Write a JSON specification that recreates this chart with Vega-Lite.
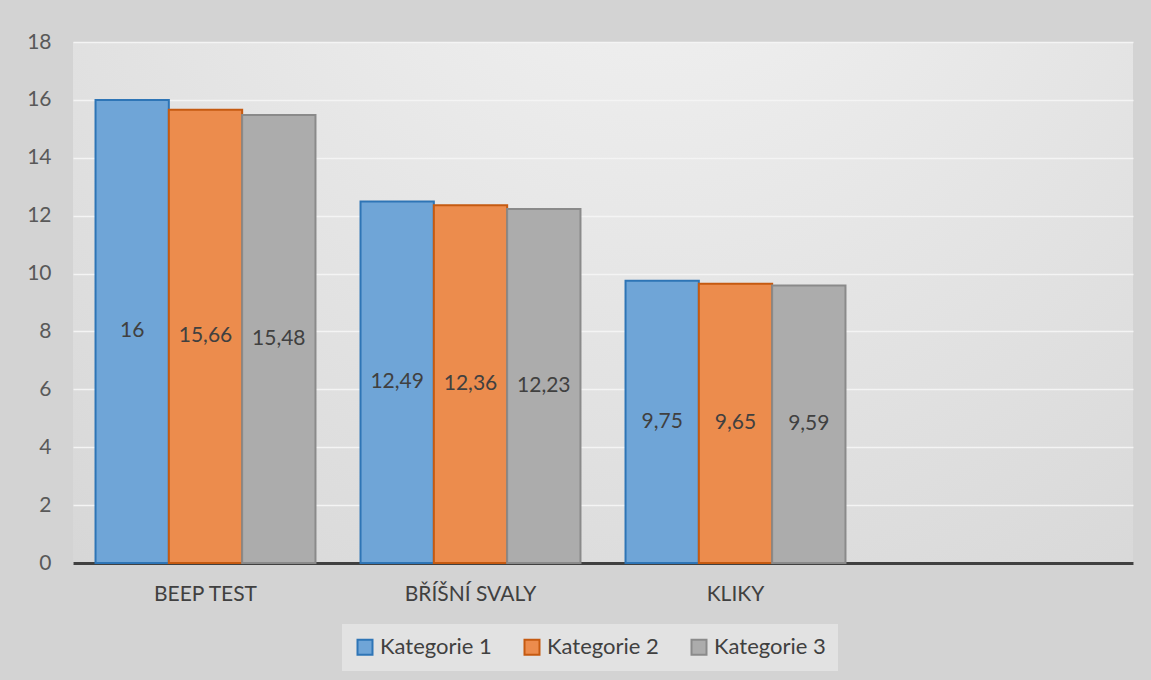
{
  "$schema": "https://vega.github.io/schema/vega-lite/v6.json",
  "width": 1060,
  "height": 521,
  "autosize": {"type": "none"},
  "padding": {"left": 73, "top": 42, "right": 18, "bottom": 117},
  "background": "#d3d3d3",
  "data": {
    "values": [
      {"test": "BEEP TEST", "serie": "Kategorie 1", "value": 16},
      {"test": "BEEP TEST", "serie": "Kategorie 2", "value": 15.66},
      {"test": "BEEP TEST", "serie": "Kategorie 3", "value": 15.48},
      {"test": "BŘÍŠNÍ SVALY", "serie": "Kategorie 1", "value": 12.49},
      {"test": "BŘÍŠNÍ SVALY", "serie": "Kategorie 2", "value": 12.36},
      {"test": "BŘÍŠNÍ SVALY", "serie": "Kategorie 3", "value": 12.23},
      {"test": "KLIKY", "serie": "Kategorie 1", "value": 9.75},
      {"test": "KLIKY", "serie": "Kategorie 2", "value": 9.65},
      {"test": "KLIKY", "serie": "Kategorie 3", "value": 9.59}
    ]
  },
  "encoding": {
    "x": {
      "field": "test",
      "type": "nominal",
      "sort": null,
      "scale": {"domain": ["BEEP TEST", "BŘÍŠNÍ SVALY", "KLIKY", " "], "paddingInner": 0.17, "paddingOuter": 0.085},
      "axis": {
        "title": null,
        "labelAngle": 0,
        "labelFontSize": 21,
        "labelColor": "#404040",
        "labelPadding": 20,
        "ticks": false,
        "domainColor": "#404040",
        "domainWidth": 3,
        "grid": false
      }
    },
    "xOffset": {"field": "serie", "type": "nominal", "scale": {"paddingInner": 0, "paddingOuter": 0}}
  },
  "layer": [
    {
      "mark": {"type": "bar", "strokeWidth": 2},
      "encoding": {
        "y": {
          "field": "value",
          "type": "quantitative",
          "scale": {"domain": [0, 18], "nice": false},
          "axis": {
            "title": null,
            "values": [0, 2, 4, 6, 8, 10, 12, 14, 16, 18],
            "labelFontSize": 21,
            "labelColor": "#595959",
            "labelPadding": 22,
            "ticks": false,
            "domain": false,
            "gridColor": "#f4f4f4",
            "gridWidth": 1.5
          }
        },
        "color": {
          "field": "serie",
          "type": "nominal",
          "scale": {"range": ["#6fa5d7", "#ec8c4d", "#acacac"]},
          "legend": {
            "title": null,
            "orient": "none",
            "legendX": 269,
            "legendY": 582,
            "direction": "horizontal",
            "fillColor": "#e2e2e2",
            "padding": 12,
            "symbolType": "square",
            "symbolSize": 225,
            "symbolStrokeWidth": 2,
            "symbolOpacity": 1,
            "labelFontSize": 22,
            "labelColor": "#404040",
            "labelOffset": 4,
            "columnPadding": 28
          }
        },
        "stroke": {
          "field": "serie",
          "type": "nominal",
          "scale": {"range": ["#2e75b6", "#c55a11", "#8a8a8a"]},
          "legend": null
        }
      }
    },
    {
      "transform": [{"calculate": "datum.value / 2", "as": "mid"}],
      "mark": {"type": "text", "fontSize": 21, "color": "#404040", "baseline": "middle", "align": "center"},
      "encoding": {
        "y": {"field": "mid", "type": "quantitative"},
        "text": {"field": "value", "type": "quantitative", "format": ",.4~r"}
      }
    }
  ],
  "config": {
    "font": "Lato",
    "locale": {"number": {"decimal": ",", "thousands": " ", "grouping": [3], "currency": ["", " Kč"]}},
    "view": {
      "stroke": null,
      "fill": {
        "gradient": "radial",
        "x1": 0.55, "y1": 0.05, "r1": 0,
        "x2": 0.55, "y2": 0.05, "r2": 1.0,
        "stops": [
          {"offset": 0, "color": "#f4f4f4"},
          {"offset": 1, "color": "#d3d3d3"}
        ]
      }
    }
  }
}
